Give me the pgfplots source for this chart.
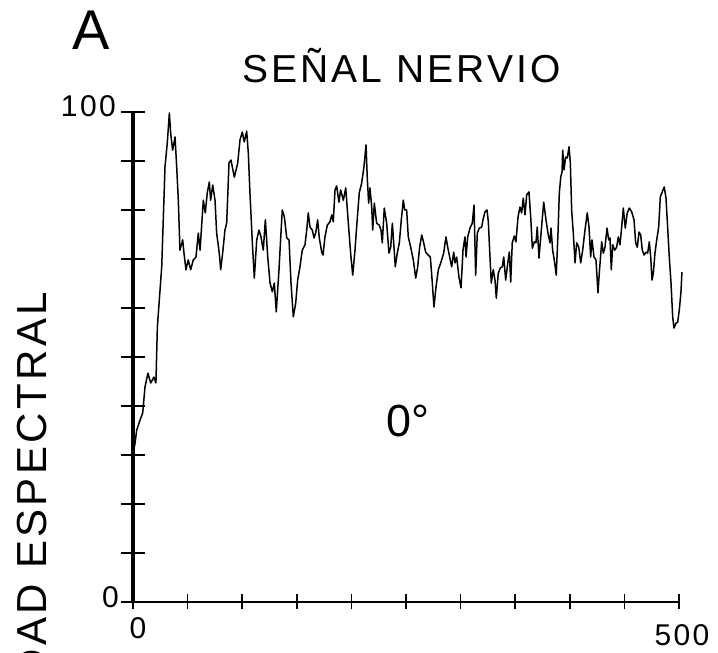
\documentclass[border=0pt]{standalone}
\usepackage{fontspec}
\setmainfont{Liberation Sans}
\newfontfamily\lab{Liberation Sans}[LetterSpace=8]
\usepackage{pgfplots}
\pgfplotsset{compat=1.18}
\begin{document}
\begin{tikzpicture}[x=1pt,y=1pt]
\path[use as bounding box] (0,0) rectangle (718,653);
% x axis, curve
\begin{axis}[
  at={(133pt,51pt)}, anchor=south west,
  scale only axis, width=546pt, height=490pt,
  xmin=0, xmax=500, ymin=0, ymax=100,
  clip=false,
  axis x line=bottom, axis y line=none,
  x axis line style={line width=2.4pt,-},
  xtick={0,50,...,500}, xticklabels={,,,,,,,,,,},
  ytick=\empty,
  major tick length=15pt, tick align=center,
  xtick style={line width=1.6pt, black},
]
\addplot[black, line width=1.5pt, line join=round] coordinates {
(0.5,33.5)(1.5,31.8)(3.4,35.1)(6.4,37.1)(8.9,38.6)(11,43.9)(13.7,46.7)(16.2,44.7)(19.2,45.9)(21,44.7)(22.3,56.1)(26.3,68.4)(29.3,88.8)(31.4,93.7)(33.3,99.8)(34.5,95.7)(36.3,92.2)(38.5,94.9)(40,88.8)(41.5,82)(43,71.8)(45.5,73.9)(46.7,71.2)(48.5,67.8)(50.6,69.8)(52.8,67.8)(55.2,69.8)(57.7,70.4)(59.8,75.3)(61.4,71.8)(64.4,82)(66.2,79.4)(68,83.5)(69.9,85.7)(71.1,82)(73,85.1)(75.1,82)(76.6,75.3)(79,71.2)(80.3,67.8)(82.1,71.2)(84.2,75.9)
(85.8,77.3)(87.9,89.6)(89.7,90.2)(92.8,86.7)(95.9,89.6)(98,94.3)(100.1,95.9)(101.9,93.9)(104.1,96.1)(105.6,91.6)(107.1,83.5)(109.3,73.3)(111.1,66.1)(113.3,73.9)(115.4,75.9)(117.2,74.5)(119.3,71.8)(121.2,78)(123.4,70.4)(125.5,65.1)(127.6,63.3)(129.4,65.1)(131.2,59.2)(133.7,67.8)(135.5,75.3)(136.7,80)(138.6,78.6)(140.8,74.3)(142.9,73.9)(144.7,65.1)(146.8,58.2)(149,61)(150.8,65.7)(152.9,68.4)(155,71.8)(157.5,72.9)(159.1,75.9)(160.5,79.4)(162.1,76.5)(164.2,75.9)(165.8,74.3)(167.3,75.3)(169.1,78)(170.6,74.3)(172.8,71.4)
(174,70.8)(175.8,74.5)(177.9,76.9)(180.4,77.6)(182,79)(183.4,77.6)(185,84.1)(186.5,84.9)(188.6,81.6)(190.1,84.1)(192.6,82)(194.8,84.5)(197.2,77.3)(199.3,71.2)(201.2,66.7)(203.3,71.8)(204.8,76.5)(207.2,83.5)(209.4,85.5)(211.5,88.8)(213.4,93.3)(214.5,86.7)(215.8,81.4)(217,84.5)(218.6,80.6)(219.5,75.9)(221,81.4)(223.1,77.3)(225.5,76.9)(227.1,75.9)(228.3,73.3)(230.1,80.4)(232.3,77.3)(234.4,71.2)(236,72.4)(237.5,77.3)(239,72.4)(240.2,68.4)(242,71.2)(243.9,73.3)(245.7,78)(247.5,82)(248.8,80)(250.6,80)(252.1,74.5)(254.3,72.4)(256.7,69.8)(258.9,66.1)(260.7,68.4)
(262.5,72.4)(264.4,74.9)(266.2,73.3)(268,71.4)(270.4,70.8)(272.3,70.4)(274.1,65.1)(275.6,60.2)(277.5,64.3)(279.6,67.8)(282.1,69.4)(284.5,71.2)(286.6,74.5)(288.2,72.4)(290,70.4)(291.8,68.4)(293.7,71.4)(294.9,69.2)(296.4,70.4)(298.5,66.3)(300.4,64.1)(302.2,71.8)(304,74.5)(305,70.4)(306.5,74.5)(308.6,76.3)(310.7,77.3)(312.3,81)(313.8,66.7)(315.3,75.3)(317.1,76.3)(319.3,76.5)(320.5,78)(322.3,79.6)(324.2,80)(325.4,77.6)(326.6,71.8)(328.1,65.1)(329.9,67.8)(331.5,65.7)(332.7,62)(334.5,67.1)(336.4,68.2)(338.2,68.4)(339.5,70.4)(341.3,65.7)(343.2,69.2)(344.6,71.4)(345.9,65.3)(347.3,73.3)(349.2,74.7)
(350.7,73.5)(352.6,78.6)(354.4,80.6)(355.9,79.4)(357.4,82.4)(359,79)(360.5,83.1)(362.6,83.7)(364.2,78.6)(365.7,72.2)(367.5,73.5)(369,73.3)(370.2,76.5)(371.8,70.2)(373.9,75.9)(376.1,81.6)(378.2,78)(380,75.3)(381.9,73.3)(382.8,76.3)(384.3,71.8)(385.8,69.8)(387.6,66.7)(389.2,75.3)(390.4,83.5)(391.7,86.7)(392.9,87.8)(393.5,92.2)(394.7,88.2)(396.2,90.8)(397.7,90.6)(399.3,92.9)(400.5,89.6)(401.7,80)(403.2,75.3)(404.8,69.2)(406.3,73.3)(408.2,72.4)(410,69.2)(411.8,71.8)(413.9,75.9)(416,79.4)(417.6,76.5)(419.1,70.4)(420.3,73.9)(422.2,70.4)(424,69.8)(425.8,63.1)(427,67.1)
(429.2,73.5)(430.7,71.2)(432.2,72.4)(434.1,76.3)(435.6,73.9)(436.8,74.3)(438,67.8)(439.3,72.9)(441.1,71.8)(442.9,72.4)(444.4,74.5)(446,72.9)(447.5,76.5)(449,80.4)(450.8,76.3)(452.6,79.4)(454.5,80.4)(456.7,79.6)(458.8,78)(460.3,73.3)(461.8,72.4)(463.4,75.5)(464.9,74.9)(466.4,71.8)(468,70.8)(469.8,71.4)(471.3,71.2)(472.8,73.5)(474.1,70.4)(475.3,65.7)(476.5,67.1)(478,71.2)(479.6,73.9)(481.4,76.5)(482.9,82.7)(484.7,83.7)(486.5,84.7)(488.1,82.4)(489.6,76.5)(491.1,70.4)(492.7,65.1)(494.2,58.2)(495.4,55.9)(497.3,56.9)(498.8,57.1)(500.3,59.6)(501.8,63.3)(502.7,67.3)
};
\node[anchor=base west, inner sep=0pt, font=\fontsize{45}{46}\selectfont] at (axis cs:232,33.7) {0°};
\tikzset{ticklab/.style={inner sep=0pt, font=\lab\fontsize{30}{32}\selectfont}}
\node[ticklab, anchor=east, xshift=-17pt, yshift=6pt] at (axis cs:0,100) {100};
\node[ticklab, anchor=east, xshift=-14pt, yshift=5pt] at (axis cs:0,0) {0};
\node[ticklab, anchor=north, xshift=5pt, yshift=-15pt] at (axis cs:0,0) {0};
\node[ticklab, anchor=north, xshift=3pt, yshift=-22pt] at (axis cs:500,0) {500};
\end{axis}
% y axis
\begin{axis}[
  at={(133pt,51pt)}, anchor=south west,
  scale only axis, width=546pt, height=490pt,
  xmin=0, xmax=500, ymin=0, ymax=100,
  axis x line=none, axis y line=left,
  y axis line style={line width=3.2pt,-},
  xtick=\empty,
  ytick={0,10,...,100}, yticklabels={,,,,,,,,,,},
  major tick length=23pt, tick align=center,
  ytick style={line width=2pt, black},
]
\end{axis}
\node[anchor=base, inner sep=0pt, font=\fontsize{56}{58}\selectfont] at (91,603) {A};
\node[anchor=base, inner sep=0pt, font=\lab\fontsize{39}{40}\selectfont] at (401.5,570) {SEÑAL NERVIO};
\node[rotate=90, anchor=east, inner sep=0pt, font=\lab\fontsize{42}{44}\selectfont] at (32.5,361) {DENSIDAD ESPECTRAL};
\end{tikzpicture}
\end{document}
